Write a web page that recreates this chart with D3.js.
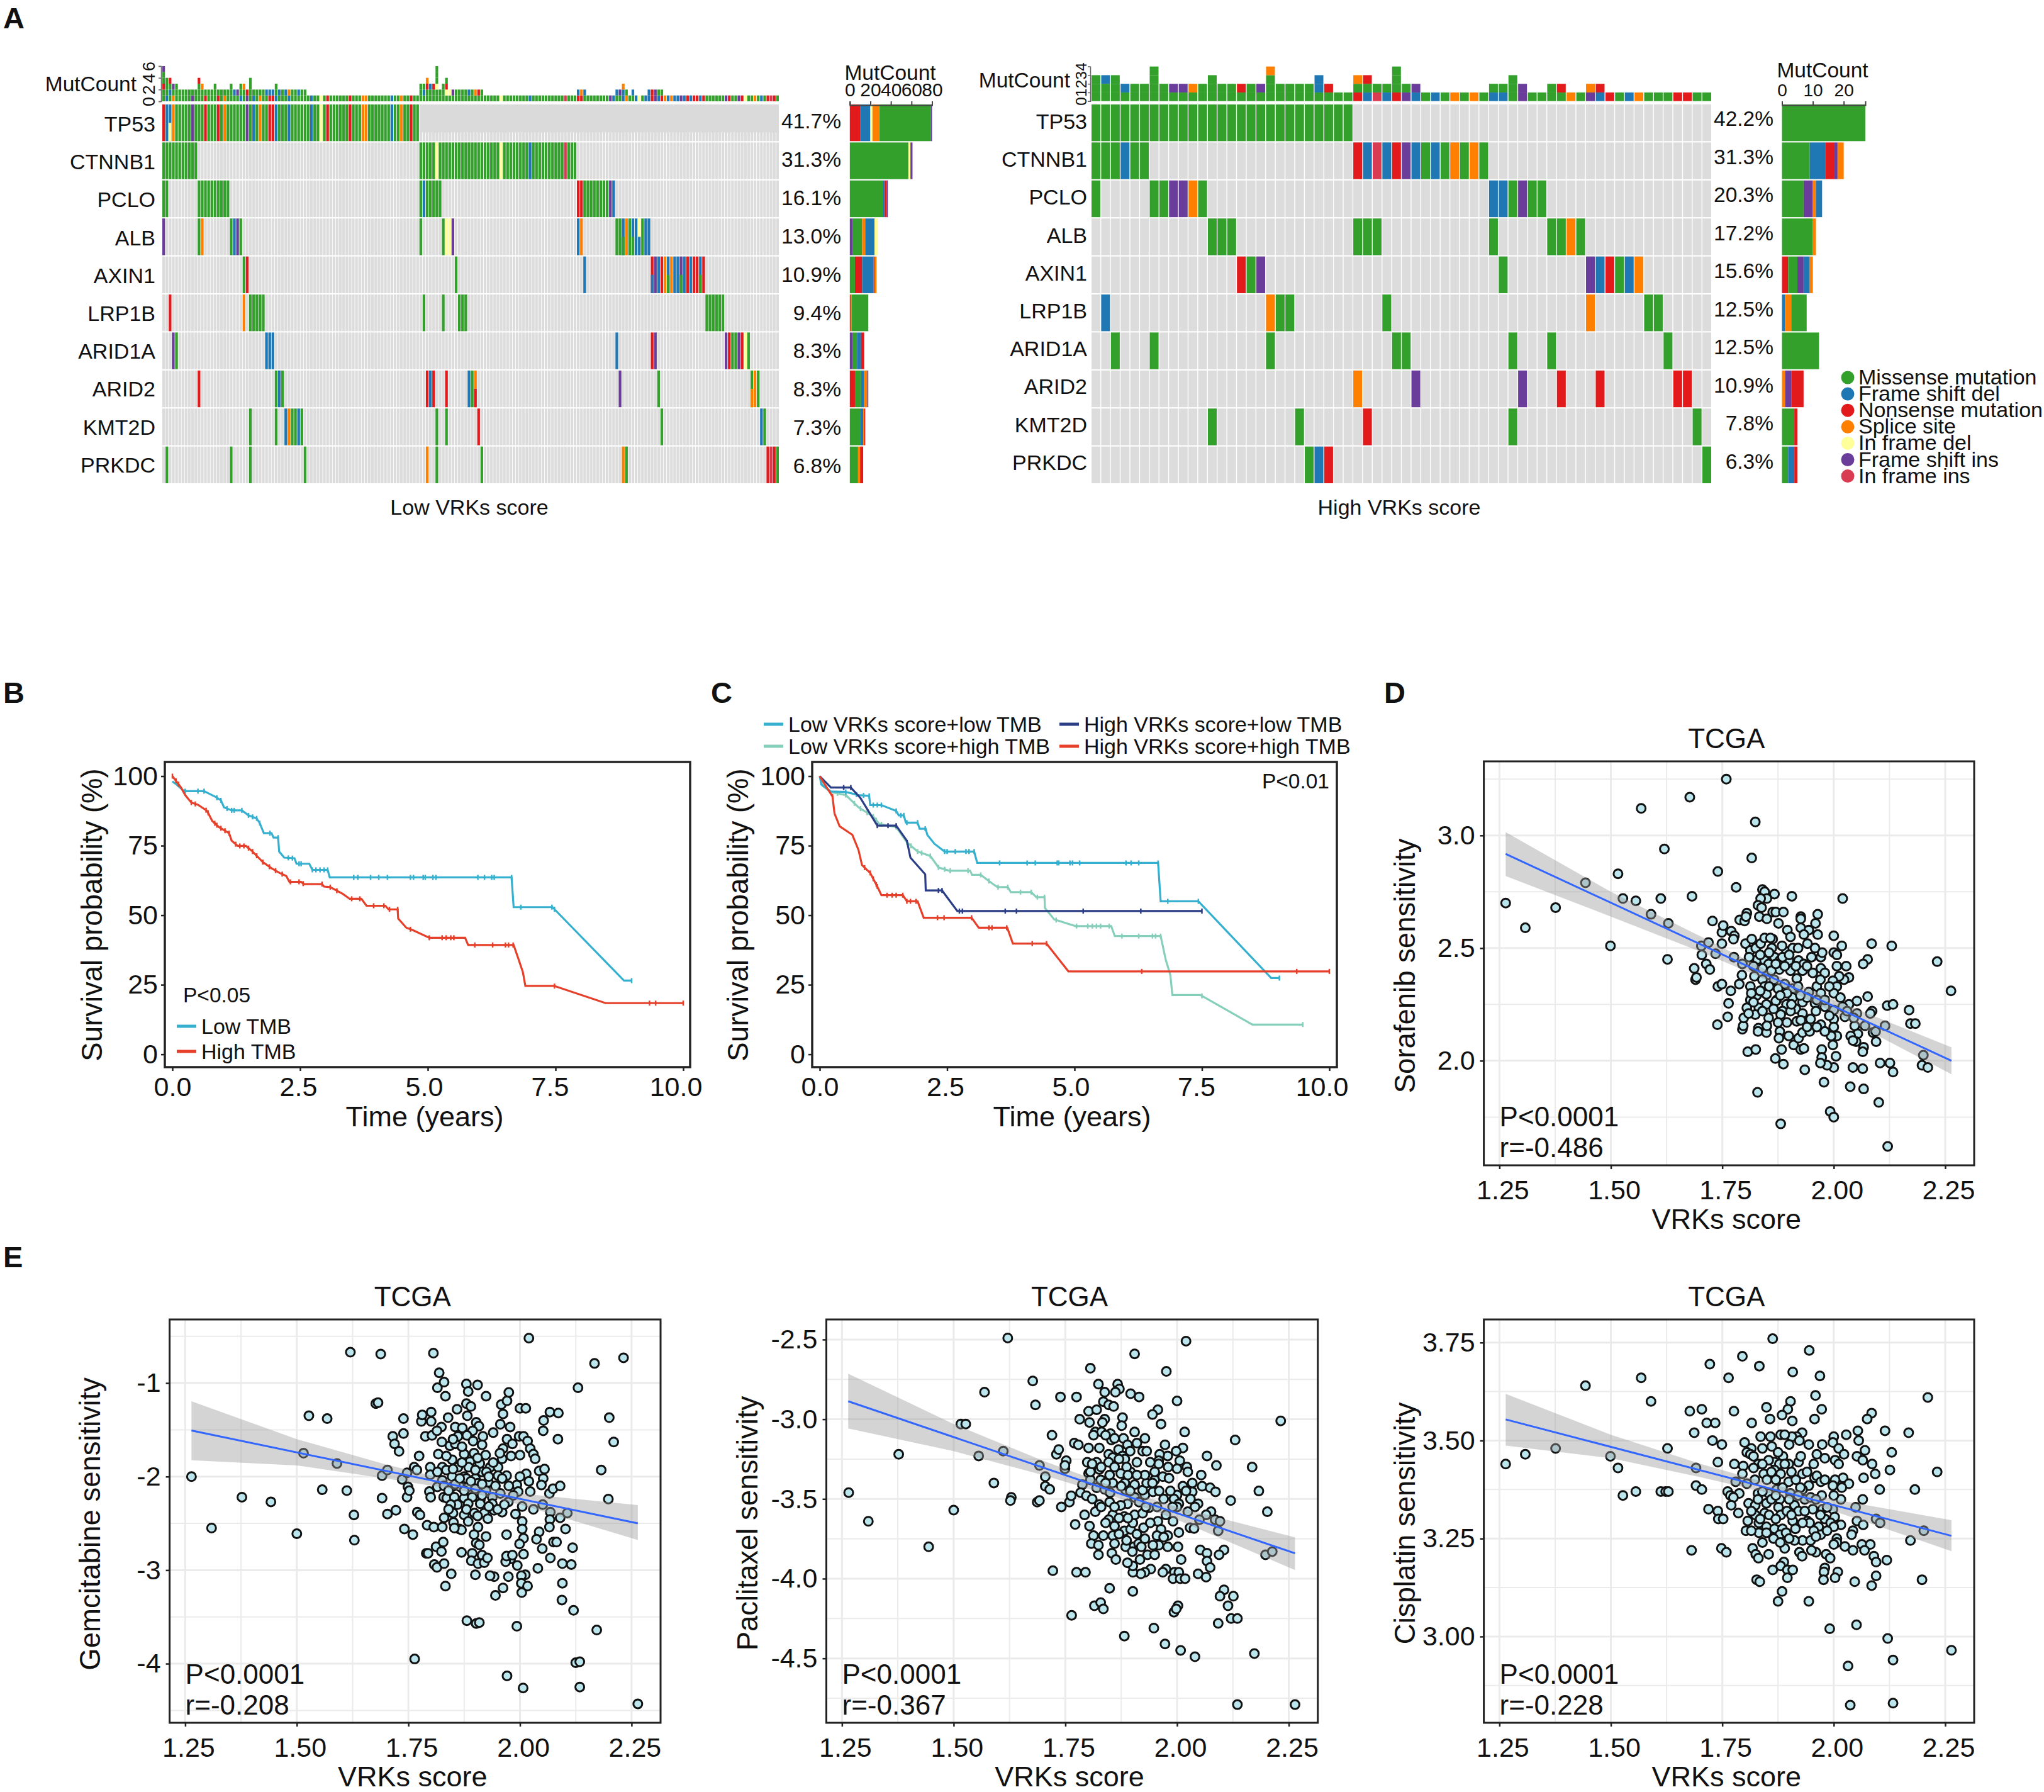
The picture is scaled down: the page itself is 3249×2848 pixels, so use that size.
<!DOCTYPE html>
<html>
<head>
<meta charset="utf-8">
<title>VRKs score figure</title>
<script src="https://cdn.jsdelivr.net/npm/d3@7"></script>
<style>
  body { margin: 0; background: #fff; }
  text { font-family: "Liberation Sans", Arial, sans-serif; fill: #111; }
</style>
</head>
<body>
<div id="chart"></div>
<script>
// mutation classes, letter codes are used in the hit lists below
const mutTypes = ['Missense mutation', 'Frame shift del', 'Nonsense mutation', 'Splice site', 'In frame del', 'Frame shift ins', 'In frame ins'];
const mutCodes = ['m', 'f', 'n', 's', 'd', 'i', 'j'];
const mutColors = ['#33a02c', '#1f78b4', '#e31a1c', '#ff7f00', '#ffff99', '#6a3d9a', '#d93b52'];

const genes = ['TP53', 'CTNNB1', 'PCLO', 'ALB', 'AXIN1', 'LRP1B', 'ARID1A', 'ARID2', 'KMT2D', 'PRKDC'];
const lowPercent = ['41.7%', '31.3%', '16.1%', '13.0%', '10.9%', '9.4%', '8.3%', '8.3%', '7.3%', '6.8%'];
const highPercent = ['42.2%', '31.3%', '20.3%', '17.2%', '15.6%', '12.5%', '12.5%', '10.9%', '7.8%', '6.3%'];

// per gene: [first sample column, one letter per sample]
const lowHits = [
  [[0, 'nffsmmmmmimmmnmmmnmsmmmmmmimfmsmmnnfmmmfmmmmmmfmmdmnmmmmmmnmmmssmmmmmmmfmmsmmnmm']],
  [[0, 'mmmmmmmmmmm'], [80, 'mmmmmdmmmmmmmmmmmmmmmmmmmdmmmmmmmmfmmmmmmmmmmjmmm']],
  [[0, 'mm'], [11, 'mmmmmmmmmm'], [80, 'mfmmmmm'], [129, 'nnmmmmmmmmif']],
  [[0, 'i'], [11, 'ms'], [21, 'mfim'], [80, 'm'], [87, 'mdd'], [90, 'i'], [129, 'fs'], [141, 'mmfsmffdmff']],
  [[25, 'mn'], [91, 'm'], [131, 'f'], [152, 'nifnsfsffifnfnnfn']],
  [[2, 'n'], [25, 's'], [27, 'mmmmm'], [81, 'm'], [87, 'm'], [92, 'mmm'], [169, 'mmmmmm']],
  [[3, 'im'], [32, 'fff'], [141, 'f'], [152, 'ni'], [175, 'inmmindm']],
  [[11, 'n'], [35, 'mfm'], [82, 'nfn'], [88, 'n'], [95, 'fms'], [142, 'i'], [154, 'm'], [183, 'msm']],
  [[27, 'm'], [35, 'm'], [38, 'fsmmfm'], [85, 'm'], [88, 'm'], [98, 'n'], [155, 'm'], [186, 'fm']],
  [[1, 'm'], [21, 'm'], [27, 'm'], [44, 'm'], [82, 's'], [85, 'm'], [99, 'm'], [143, 'sm'], [188, 'njnm']]
];
// cells with a second hit drawn in the lower half: [gene index, column, code]
const lowSplits = [[0, 2, 'd'], [3, 143, 'm'], [3, 146, 'm'], [3, 148, 'f'], [4, 152, 'f'], [4, 157, 'm'], [4, 161, 'm'], [4, 167, 'm'], [7, 97, 'n'], [7, 183, 's']];
// hits on top of the gene list, only seen in the MutCount bars: [column, codes]
const lowExtra = [[0, 'mm'], [2, 'm'], [16, 'm'], [24, 'f'], [85, 'mm'], [143, 'f'], [146, 'm'], [151, 'f']];

const highHits = [
  [[0, 'mmmmmmmmmmmmmmmmmmmmmmmmmmm']],
  [[0, 'mmmfmm'], [27, 'nfjfnifmfmsmsm']],
  [[0, 'm'], [6, 'mmiism'], [41, 'ffmimm']],
  [[12, 'mmm'], [27, 'mmm'], [41, 'm'], [47, 'mmsm']],
  [[15, 'nmi'], [42, 'm'], [51, 'ifnmfs']],
  [[1, 'f'], [18, 'smm'], [30, 'm'], [51, 's'], [57, 'mm']],
  [[2, 'm'], [6, 'm'], [18, 'm'], [31, 'mm'], [43, 'm'], [47, 'm'], [59, 'm']],
  [[27, 's'], [33, 'i'], [44, 'i'], [48, 'n'], [52, 'n'], [60, 'nn']],
  [[12, 'm'], [21, 'm'], [28, 'n'], [43, 'm'], [62, 'm']],
  [[22, 'mfn'], [63, 'm']]
];
// MutCount stack per sample, bottom to top
const highTop = ['mmm', 'mmf', 'mmm', 'mf', 'mm', 'mm', 'mmmm', 'mm', 'mi', 'mi', 'ms', 'mm', 'mmm', 'mm', 'mm', 'mn', 'mm', 'mi', 'mmms', 'mm', 'mm', 'mm', 'mm', 'mff', 'mn', 'm', 'm',
  'nms', 'fmn', 'jm', 'fm', 'nmmm', 'im', 'fi', 'm', 'f', 'm', 's', 'm', 's', 'm', 'fm', 'fm', 'mmm', 'ii', 'm', 'm', 'mm', 'mn', 's', 'm', 'is', 'fn', 'n', 'm', 'f', 's', 'm', 'm', 'm', 'n', 'n', 'm', 'm'];

// MutCount per gene, left to right
const lowSide = [
  [['n', 10], ['f', 10], ['d', 2], ['s', 7], ['m', 50], ['i', 1]],
  [['m', 57], ['d', 2], ['i', 2]],
  [['m', 32], ['f', 2], ['n', 2], ['i', 1]],
  [['i', 3], ['m', 9], ['s', 3], ['f', 9], ['d', 3]],
  [['m', 5], ['n', 7], ['f', 11], ['i', 1], ['s', 2]],
  [['n', 1], ['s', 1], ['m', 16]],
  [['i', 3], ['m', 4], ['f', 4], ['n', 3]],
  [['n', 5], ['m', 6], ['f', 3], ['s', 3], ['i', 1]],
  [['m', 10], ['f', 3], ['s', 1], ['n', 1]],
  [['m', 8], ['s', 2], ['n', 3]]
];
const highSide = [
  [['m', 27]],
  [['m', 9], ['f', 5], ['n', 3], ['i', 1], ['s', 2]],
  [['m', 7], ['i', 3], ['s', 1], ['f', 2]],
  [['m', 10], ['s', 1]],
  [['n', 2], ['m', 3], ['i', 2], ['f', 2], ['s', 1]],
  [['f', 1], ['s', 2], ['m', 5]],
  [['m', 12]],
  [['s', 1], ['i', 2], ['n', 4]],
  [['m', 4], ['n', 1]],
  [['m', 2], ['f', 2], ['n', 1]]
];

// Kaplan-Meier curves as [years, percent], censor marks in years
const tmbLow = [[0, 98.1], [.08, 97], [.23, 94.6], [.62, 94.6], [.83, 92.7], [.95, 91.3], [1.01, 88.8], [1.16, 87.7], [1.36, 87.7], [1.49, 85.9], [1.65, 84.8], [1.71, 83.1], [1.79, 79.5], [1.94, 79.5], [1.98, 77.9], [2.07, 77.9], [2.09, 72.9], [2.19, 70.7], [2.39, 70.5], [2.43, 68.5], [2.68, 68.5], [2.74, 66.3], [3.04, 66.3], [3.08, 63.6], [6.64, 63.6], [6.68, 52.9], [7.44, 52.9], [8.84, 26.5], [8.99, 26.5]];
const tmbLowCensor = [.25, .5, .62, .87, .95, 1.07, 1.16, 1.21, 1.36, 1.49, 1.57, 1.65, 1.71, 1.91, 2.07, 2.27, 2.35, 2.48, 2.52, 2.74, 2.81, 2.89, 2.97, 3.04, 3.55, 3.63, 3.88, 4.04, 4.21, 4.66, 4.72, 4.91, 4.95, 5.1, 5.16, 5.98, 6.11, 6.25, 6.3, 6.64, 6.82, 7.43, 7.48, 8.99];
const tmbHigh = [[0, 100], [.08, 98.1], [.17, 95.9], [.25, 93.2], [.37, 90.5], [.5, 89.7], [.68, 87.5], [.78, 83.9], [.91, 81.7], [1.11, 79.5], [1.16, 76.8], [1.28, 74.9], [1.44, 74.9], [1.57, 72.9], [1.77, 69.1], [1.94, 66.9], [2.1, 65.2], [2.23, 64.1], [2.29, 62], [2.52, 62], [2.57, 61.2], [2.93, 61.2], [2.97, 60.3], [3.09, 60.1], [3.34, 57.6], [3.47, 55.9], [3.7, 55.9], [3.8, 53.4], [4.17, 53.4], [4.23, 52.1], [4.41, 52.1], [4.42, 48.8], [4.58, 45.5], [4.7, 44.7], [5.03, 41.9], [5.73, 41.9], [5.79, 39.3], [6.68, 39.3], [6.77, 34.5], [6.86, 29.6], [6.91, 24.6], [7.47, 24.6], [8.48, 18.4], [10, 18.4]];
const tmbHighCensor = [0, .07, .12, .37, .45, .66, .7, .83, .87, .95, 1.03, 1.11, 1.24, 1.32, 1.4, 1.49, 1.57, 1.65, 1.77, 1.9, 2.02, 2.15, 2.31, 2.48, 2.56, 2.93, 3.09, 3.22, 3.51, 3.67, 3.94, 4.14, 4.25, 4.41, 4.66, 5.03, 5.28, 5.36, 5.45, 5.51, 5.92, 6.27, 6.52, 6.58, 6.67, 7.48, 9.34, 9.46, 10];

const lowLow = [[0, 100], [.03, 97], [.22, 94.5], [.51, 94.3], [.76, 93.2], [.97, 92.9], [.99, 89.6], [1.21, 89.6], [1.5, 87.5], [1.55, 85.9], [1.65, 85.9], [1.69, 83.3], [1.92, 83.3], [1.96, 81.1], [2.08, 81.1], [2.11, 78.9], [2.25, 75.7], [2.45, 72.9], [3.03, 72.9], [3.09, 68.8], [6.64, 68.8], [6.69, 55], [7.43, 55], [8.86, 27.4], [9.02, 27.4]];
const lowLowCensor = [.51, .72, .86, .97, 1.05, 1.13, 1.21, 1.5, 1.59, 1.65, 1.71, 1.92, 2.07, 2.45, 2.5, 2.66, 2.87, 2.93, 3.03, 3.53, 4.07, 4.23, 4.66, 4.69, 4.91, 4.96, 5.1, 6.01, 6.11, 6.26, 6.64, 6.83, 7.43, 9.02];
const lowHigh = [[0, 100], [.06, 96.5], [.22, 94.3], [.51, 93.2], [.76, 88.8], [1.05, 85.5], [1.17, 82.8], [1.5, 81.7], [1.71, 76.2], [1.92, 72.9], [2.17, 71.3], [2.33, 67.2], [2.54, 66], [2.95, 66], [2.99, 64.5], [3.16, 64.5], [3.4, 61.2], [3.49, 60.1], [3.69, 60.1], [3.75, 58.3], [4.15, 58.3], [4.25, 56.5], [4.41, 56.5], [4.42, 52.6], [4.6, 48.5], [5.02, 46.1], [5.72, 46.1], [5.79, 42.5], [6.69, 42.5], [6.79, 34], [6.88, 28.5], [6.92, 21.3], [7.47, 21.3], [8.49, 10.7], [9.48, 10.7]];
const lowHighCensor = [.35, .51, .68, .8, .93, 1.05, 1.11, 1.21, 1.5, 1.71, 1.79, 1.92, 2, 2.17, 2.33, 2.45, 2.56, 2.91, 3.16, 3.32, 3.5, 3.69, 3.94, 4.15, 4.27, 4.41, 4.64, 5.04, 5.26, 5.35, 5.43, 5.51, 5.68, 5.93, 6.26, 6.53, 6.59, 6.69, 7.5, 9.48];
const highLow = [[0, 100], [.22, 95.9], [.61, 95.9], [.8, 92.1], [1.13, 82.2], [1.5, 82.2], [1.71, 76.8], [1.78, 70.7], [2.07, 64.7], [2.08, 58.9], [2.4, 58.9], [2.7, 51.5], [7.5, 51.5]];
const highLowCensor = [.47, .61, 1.13, 1.34, 1.5, 2.33, 2.4, 2.74, 2.8, 3.64, 3.86, 5.17, 6.3, 7.5];
const highHigh = [[0, 100], [.1, 97], [.25, 92.7], [.29, 86.6], [.39, 82], [.64, 78.9], [.76, 73.5], [.83, 68], [.99, 65.2], [1.13, 60.3], [1.21, 57.2], [1.63, 57.2], [1.71, 55], [1.92, 55], [2.04, 49.1], [2.98, 49.1], [3.12, 45.5], [3.68, 45.5], [3.79, 39.8], [4.45, 39.8], [4.88, 29.8], [10, 29.8]];
const highHighCensor = [.25, .88, .99, 1.05, 1.11, 1.13, 1.32, 1.42, 1.5, 1.63, 1.71, 1.78, 1.89, 2.31, 2.44, 2.98, 3.32, 3.38, 3.67, 4.17, 4.45, 6.32, 9.36, 10];

const kmTimeTicks = [0, 2.5, 5, 7.5, 10];
const kmTimeLabels = ['0.0', '2.5', '5.0', '7.5', '10.0'];
const kmPercentTicks = [0, 25, 50, 75, 100];

// scatter points as [VRKs score, drug sensitivity]
const sorafenib = [[1.264,2.70],[1.308,2.59],[1.376,2.68],[1.443,2.79],[1.499,2.51],[1.516,2.83],[1.527,2.72],[1.556,2.71],[1.568,3.12],[1.59,2.65],[1.612,2.72],[1.62,2.94],[1.629,2.61],[1.627,2.45],[1.677,3.17],[1.682,2.73],[1.759,3.25],[1.824,3.06],[1.816,2.90],[1.74,2.84],[1.781,2.77],[1.84,2.76],[1.845,2.75],[1.867,2.74],[1.906,2.73],[2.02,2.72],[1.85,2.72],[1.836,2.72],[1.83,2.69],[1.838,2.68],[1.863,2.66],[1.87,2.66],[1.887,2.66],[1.833,2.64],[1.85,2.63],[1.876,2.61],[1.926,2.64],[1.926,2.63],[1.964,2.65],[1.959,2.61],[1.926,2.59],[1.944,2.58],[1.896,2.58],[1.964,2.56],[1.933,2.56],[1.903,2.55],[1.863,2.54],[2.0,2.555],[1.941,2.52],[2.018,2.51],[2.085,2.52],[2.13,2.51],[2.232,2.44],[2.263,2.31],[2.076,2.45],[2.066,2.43],[2.0,2.48],[2.007,2.47],[1.971,2.46],[1.974,2.48],[1.958,2.50],[2.007,2.42],[2.028,2.42],[1.971,2.41],[1.953,2.39],[1.98,2.39],[2.034,2.37],[2.023,2.36],[2.012,2.375],[1.998,2.355],[2.007,2.33],[2.0,2.30],[1.962,2.33],[1.971,2.30],[2.076,2.285],[2.052,2.265],[2.034,2.25],[2.02,2.24],[2.12,2.245],[2.133,2.25],[2.169,2.225],[2.086,2.22],[2.082,2.21],[2.052,2.21],[2.025,2.195],[2.0,2.225],[2.0,2.185],[2.115,2.155],[2.172,2.165],[2.183,2.165],[2.07,2.155],[2.047,2.155],[2.0,2.15],[1.971,2.16],[2.088,2.125],[2.094,2.13],[2.054,2.12],[2.038,2.11],[2.007,2.11],[1.994,2.11],[2.095,2.085],[2.05,2.085],[2.043,2.09],[2.067,2.06],[2.065,2.04],[1.998,2.07],[1.973,2.05],[1.973,2.015],[2.005,2.02],[2.201,2.025],[2.198,1.98],[2.211,1.97],[2.104,1.99],[2.126,1.99],[2.133,1.95],[2.065,1.965],[2.043,1.97],[2.0,1.97],[1.985,1.98],[1.97,1.99],[1.935,1.96],[1.887,1.985],[1.869,2.01],[1.978,1.905],[2.037,1.885],[2.067,1.875],[1.829,1.86],[2.101,1.815],[1.992,1.775],[2.0,1.75],[1.881,1.72],[2.121,1.62],[1.807,2.04],[1.825,2.05],[1.883,2.05],[1.91,2.07],[1.926,2.05],[1.933,2.055],[1.831,2.145],[1.83,2.13],[1.849,2.125],[1.879,2.13],[1.877,2.10],[1.899,2.11],[1.921,2.10],[1.93,2.125],[1.946,2.13],[1.962,2.15],[1.795,2.14],[1.797,2.155],[1.739,2.16],[1.762,2.195],[1.798,2.19],[1.764,2.255],[1.769,2.31],[1.74,2.33],[1.749,2.34],[1.69,2.36],[1.692,2.37],[1.687,2.41],[1.704,2.47],[1.703,2.51],[1.714,2.43],[1.722,2.405],[1.735,2.475],[1.719,2.525],[1.728,2.62],[1.749,2.52],[1.749,2.57],[1.752,2.60],[1.77,2.575],[1.777,2.555],[1.775,2.54],[1.789,2.625],[1.8,2.62],[1.805,2.655],[1.803,2.64],[1.776,2.46],[1.788,2.34],[1.795,2.43],[1.802,2.52],[1.813,2.49],[1.816,2.54],[1.825,2.50],[1.829,2.45],[1.836,2.52],[1.845,2.545],[1.858,2.545],[1.861,2.50],[1.845,2.445],[1.854,2.43],[1.867,2.46],[1.879,2.445],[1.894,2.485],[1.884,2.51],[1.908,2.50],[1.899,2.445],[1.921,2.445],[1.933,2.43],[1.93,2.40],[1.903,2.40],[1.878,2.405],[1.85,2.38],[1.794,2.38],[1.822,2.375],[1.84,2.36],[1.866,2.36],[1.917,2.365],[1.89,2.34],[1.813,2.33],[1.845,2.33],[1.827,2.29],[1.849,2.295],[1.908,2.32],[1.944,2.305],[1.908,2.28],[1.872,2.27],[1.894,2.25],[1.93,2.26],[1.958,2.255],[1.98,2.24],[1.813,2.27],[1.849,2.25],[1.805,2.235],[1.832,2.235],[1.885,2.22],[1.915,2.23],[1.93,2.21],[1.824,2.205],[1.854,2.19],[1.881,2.205],[1.903,2.22],[1.948,2.185],[1.917,2.175],[1.926,2.18],[1.809,2.21],[1.87,2.265],[1.962,2.27],
  [1.81,2.46],[1.82,2.42],[1.835,2.47],[1.84,2.41],[1.855,2.48],[1.86,2.40],[1.87,2.43],[1.885,2.46],[1.89,2.42],[1.9,2.47],[1.915,2.42],[1.92,2.50],[1.94,2.42],[1.95,2.46],[1.815,2.30],[1.835,2.31],[1.855,2.33],[1.875,2.32],[1.895,2.30],[1.92,2.33],[1.94,2.28],[1.96,2.22],[1.98,2.27],[1.82,2.26],[1.84,2.22],[1.865,2.23],[1.88,2.29],[1.905,2.25],[1.925,2.29],[1.97,2.36],[1.99,2.33],[1.99,2.20],[2.015,2.28],[2.03,2.22],[2.045,2.19],[1.875,2.17],[1.895,2.17],[1.94,2.15],[1.98,2.13],[1.85,2.155]];

const gemcitabine = [[1.264,-2.0],[1.309,-2.55],[1.377,-2.22],[1.442,-2.27],[1.5,-2.61],[1.515,-1.75],[1.527,-1.35],[1.557,-2.14],[1.568,-1.38],[1.59,-1.86],[1.612,-2.15],[1.62,-0.67],[1.628,-2.41],[1.629,-2.68],[1.677,-1.22],[1.682,-1.21],[1.688,-0.69],[1.691,-1.99],[1.691,-2.23],[1.703,-1.93],[1.703,-2.40],[1.715,-1.57],[1.719,-1.65],[1.722,-2.36],[1.729,-1.73],[1.736,-2.03],[1.739,-1.38],[1.739,-1.54],[1.741,-2.56],[1.747,-1.96],[1.747,-2.22],[1.749,-2.11],[1.752,-2.15],[1.76,-2.62],[1.764,-3.95],[1.763,-1.90],[1.769,-1.93],[1.77,-2.38],[1.776,-2.41],[1.774,-1.78],[1.779,-1.41],[1.781,-1.34],[1.788,-1.57],[1.79,-2.82],[1.792,-2.52],[1.794,-2.82],[1.799,-1.90],[1.799,-1.98],[1.797,-2.16],[1.80,-2.22],[1.801,-1.31],[1.801,-1.41],[1.803,-1.56],[1.806,-0.68],[1.807,-2.54],[1.808,-2.94],[1.814,-2.97],[1.812,-2.75],[1.815,-1.05],[1.819,-0.89],[1.83,-0.99],[1.833,-1.14],[1.839,-1.37],[1.824,-1.47],[1.814,-1.51],[1.825,-1.63],[1.817,-1.76],[1.826,-1.90],[1.835,-1.93],[1.815,-2.11],[1.826,-2.04],[1.829,-2.22],[1.836,-2.23],[1.826,-2.54],[1.83,-2.44],[1.828,-2.70],[1.824,-2.80],[1.83,-2.93],[1.846,-3.04],[1.833,-3.17],[1.85,-2.39],[1.851,-2.49],[1.864,-2.56],[1.869,-2.57],[1.853,-2.55],[1.869,-2.81],[1.843,-1.67],[1.848,-1.82],[1.855,-1.65],[1.855,-1.47],[1.859,-1.28],[1.871,-1.48],[1.861,-1.57],[1.88,-1.01],[1.905,-1.02],[1.884,-1.09],[1.88,-1.22],[1.89,-1.25],[1.882,-1.35],[1.902,-1.42],[1.908,-1.46],[1.894,-1.51],[1.881,-1.56],[1.917,-1.57],[1.94,-1.53],[1.924,-1.14],[1.915,-1.66],[1.875,-1.76],[1.897,-1.75],[1.923,-1.77],[1.956,-1.44],[1.962,-1.33],[1.958,-1.23],[1.971,-1.19],[1.975,-1.10],[1.978,-1.47],[1.971,-1.60],[1.962,-1.70],[1.983,-1.65],[2.0,-1.27],[2.013,-1.27],[1.998,-1.57],[2.008,-1.57],[2.017,-1.62],[2.023,-1.70],[2.03,-1.76],[2.034,-1.81],[2.0,-1.77],[2.02,-0.52],[2.053,-1.40],[2.052,-1.51],[2.067,-1.31],[2.086,-1.32],[2.085,-1.60],[2.13,-1.05],[2.167,-0.79],[2.232,-0.73],[2.2,-1.37],[2.21,-1.63],[2.182,-1.93],[2.198,-2.24],[2.043,-1.94],[2.055,-1.92],[2.052,-2.02],[2.014,-1.97],[2.048,-2.09],[2.066,-2.18],[2.074,-2.13],[2.09,-2.10],[2.023,-2.16],[1.993,-2.09],[1.996,-2.16],[2.051,-2.30],[2.068,-2.38],[2.106,-2.39],[2.09,-2.44],[2.067,-2.46],[2.066,-2.54],[2.102,-2.56],[2.043,-2.59],[2.005,-2.32],[2.005,-2.48],[2.005,-2.56],[2.075,-2.70],[2.082,-2.70],[2.037,-2.67],[2.05,-2.77],[2.008,-2.66],[1.999,-2.72],[1.97,-2.62],[2.008,-2.83],[2.068,-2.87],[2.118,-2.76],[2.095,-2.93],[2.115,-2.94],[2.04,-2.98],[1.994,-2.95],[1.979,-2.88],[1.968,-2.91],[1.97,-2.85],[1.983,-2.84],[2.012,-3.05],[2.003,-3.06],[1.974,-3.07],[1.942,-3.07],[1.933,-3.06],[1.9,-3.05],[2.003,-3.14],[2.017,-3.17],[1.962,-3.19],[2.004,-3.24],[1.945,-3.27],[2.095,-3.14],[2.094,-3.32],[2.12,-3.43],[2.172,-3.64],[1.881,-3.54],[1.902,-3.57],[1.909,-3.56],[1.993,-3.60],[1.971,-4.13],[2.007,-4.26],[2.125,-3.99],[2.134,-3.98],[2.134,-4.25],[2.264,-4.43],[1.906,-2.54],[1.897,-2.62],[1.924,-2.64],[1.902,-2.71],[1.909,-2.73],[1.893,-2.82],[1.915,-2.84],[1.891,-2.90],[1.906,-2.93],[1.92,-2.92],[1.927,-2.87],[1.875,-2.0],[1.848,-2.0],[1.861,-1.90],[1.888,-1.84],[1.91,-1.86],[1.933,-1.90],[1.951,-1.90],[1.96,-1.81],[1.97,-1.99],[1.915,-1.95],[1.88,-2.02],[1.9,-2.02],[1.906,-2.07],[1.929,-2.06],[1.951,-1.99],[1.866,-2.11],[1.848,-2.11],[1.884,-2.11],[1.924,-2.15],[1.956,-2.18],[1.911,-2.25],[1.875,-2.23],[1.893,-2.22],[1.853,-2.22],[1.938,-2.22],[1.974,-2.27],[1.942,-2.36],[1.96,-2.38],[1.92,-2.39],[1.898,-2.39],[1.875,-2.41],[1.928,-2.45],[1.884,-2.48],[1.884,-2.29],[1.911,-2.29],[1.938,-2.29],
  [1.835,-1.78],[1.85,-1.60],[1.87,-1.68],[1.885,-1.9],[1.895,-1.62],[1.905,-1.8],[1.925,-1.95],[1.94,-1.85],[1.955,-1.75],[1.98,-1.78],[1.83,-2.1],[1.84,-2.15],[1.855,-2.08],[1.865,-2.02],[1.875,-2.15],[1.89,-2.05],[1.9,-2.13],[1.915,-2.08],[1.93,-2.0],[1.945,-2.1],[1.96,-2.02],[1.975,-2.1],[1.985,-2.2],[2.0,-2.0],[2.02,-2.05],[1.86,-2.3],[1.88,-2.35],[1.905,-2.42],[1.915,-2.2],[1.93,-2.32],[1.95,-2.35],[1.965,-2.3],[1.99,-2.4],[2.03,-2.35],[1.845,-2.3],[1.85,-1.92],[1.87,-1.85],[1.9,-1.93],[1.815,-1.95],[1.84,-2.35]];

const paclitaxel = [[1.265,-3.46],[1.309,-3.64],[1.377,-3.22],[1.444,-3.80],[1.5,-3.57],[1.516,-3.03],[1.527,-3.03],[1.556,-3.23],[1.569,-2.83],[1.59,-3.40],[1.611,-3.20],[1.621,-2.49],[1.629,-3.49],[1.627,-3.51],[1.677,-2.76],[1.683,-2.91],[1.687,-3.52],[1.692,-3.51],[1.692,-3.29],[1.705,-3.36],[1.705,-3.42],[1.715,-3.44],[1.72,-3.10],[1.73,-3.22],[1.735,-3.19],[1.739,-2.86],[1.741,-3.55],[1.722,-3.95],[1.749,-3.31],[1.752,-3.26],[1.749,-3.29],[1.759,-3.52],[1.763,-3.48],[1.764,-4.23],[1.77,-3.15],[1.779,-3.16],[1.775,-2.86],[1.772,-3.66],[1.775,-3.96],[1.782,-3.0],[1.795,-3.96],[1.793,-3.60],[1.802,-2.95],[1.804,-3.02],[1.806,-2.68],[1.802,-3.18],[1.799,-3.27],[1.788,-3.41],[1.784,-3.46],[1.797,-3.48],[1.802,-3.34],[1.806,-3.38],[1.804,-3.67],[1.813,-3.73],[1.808,-3.78],[1.824,-3.79],[1.824,-3.85],[1.815,-4.17],[1.829,-4.15],[1.835,-4.19],[1.824,-2.78],[1.838,-2.83],[1.835,-2.89],[1.847,-2.91],[1.82,-2.94],[1.858,-2.92],[1.838,-3.0],[1.833,-3.02],[1.817,-3.08],[1.831,-3.08],[1.851,-3.09],[1.813,-3.10],[1.853,-3.13],[1.826,-3.18],[1.847,-3.22],[1.856,-3.24],[1.847,-3.27],[1.82,-3.27],[1.806,-3.33],[1.826,-3.315],[1.849,-3.35],[1.829,-3.38],[1.856,-3.40],[1.82,-3.43],[1.838,-3.44],[1.849,-3.52],[1.826,-3.535],[1.817,-3.58],[1.856,-3.60],[1.847,-3.63],[1.835,-3.73],[1.86,-3.67],[1.856,-3.73],[1.86,-3.78],[1.854,-3.84],[1.863,-3.88],[1.849,-4.06],[1.882,-4.36],[1.901,-4.08],[1.948,-4.31],[1.973,-4.41],[2.008,-4.45],[2.04,-4.49],[2.173,-4.47],[2.135,-4.79],[2.264,-4.79],[1.867,-2.78],[1.871,-2.81],[1.862,-2.83],[1.896,-2.84],[1.915,-2.86],[1.905,-2.59],[1.976,-2.70],[2.02,-2.51],[2.0,-2.885],[1.957,-2.94],[1.945,-2.97],[1.964,-3.03],[1.878,-2.99],[1.876,-3.04],[1.905,-3.08],[1.88,-3.12],[1.928,-3.12],[1.889,-3.16],[2.017,-3.08],[2.13,-3.13],[2.232,-3.01],[1.973,-3.16],[1.869,-3.19],[1.923,-3.2],[1.932,-3.2],[1.878,-3.23],[1.91,-3.27],[1.883,-3.25],[2.013,-3.18],[1.998,-3.2],[1.979,-3.23],[1.961,-3.22],[1.959,-3.26],[1.959,-3.28],[2.067,-3.23],[2.088,-3.29],[2.168,-3.3],[2.006,-3.26],[2.022,-3.3],[2.0,-3.31],[2.024,-3.33],[2.054,-3.35],[2.034,-3.4],[2.013,-3.42],[2.056,-3.42],[2.074,-3.43],[2.086,-3.455],[2.034,-3.455],[2.183,-3.45],[2.12,-3.51],[2.202,-3.58],[2.0,-3.475],[1.993,-3.5],[2.004,-3.53],[2.0,-3.55],[2.047,-3.53],[2.04,-3.55],[2.076,-3.58],[2.065,-3.6],[2.024,-3.58],[2.05,-3.63],[2.085,-3.63],[2.096,-3.64],[2.092,-3.7],[1.991,-3.64],[1.957,-3.64],[1.964,-3.69],[2.029,-3.68],[2.038,-3.685],[2.004,-3.71],[1.979,-3.73],[1.955,-3.73],[1.97,-3.74],[2.002,-3.8],[1.979,-3.8],[1.959,-3.79],[2.052,-3.82],[2.067,-3.84],[2.105,-3.82],[2.094,-3.85],[2.009,-3.88],[2.067,-3.89],[2.074,-3.93],[2.047,-3.97],[2.065,-3.99],[2.198,-3.85],[2.213,-3.83],[1.975,-3.94],[1.968,-3.96],[1.941,-3.94],[1.928,-3.96],[1.994,-3.96],[2.004,-3.96],[1.991,-4.0],[2.007,-4.0],[2.018,-4.0],[1.919,-3.97],[1.901,-3.96],[1.901,-3.92],[1.889,-3.9],[1.917,-3.88],[1.934,-3.85],[1.903,-3.8],[1.914,-3.78],[1.885,-3.8],[1.887,-3.76],[1.928,-3.75],[1.946,-3.79],[1.882,-3.7],[1.896,-3.69],[1.901,-3.65],[1.882,-3.61],[1.905,-3.6],[1.923,-3.59],[1.937,-3.555],[1.889,-3.53],[1.874,-3.54],[1.905,-3.49],[1.928,-3.475],[1.885,-3.445],[1.923,-3.445],[1.946,-3.455],[1.883,-3.4],[1.905,-3.41],[1.932,-3.4],[1.95,-3.38],[1.968,-3.36],[1.982,-3.37],[1.928,-3.35],[1.95,-3.33],[1.896,-3.33],[1.874,-3.34],[1.887,-3.3],[2.105,-4.07],[2.096,-4.11],[2.126,-4.11],[2.114,-4.17],[2.092,-4.28],[2.121,-4.25],[2.135,-4.25],[1.993,-4.21],[2.002,-4.17],[1.998,-4.19],
  [1.81,-3.28],[1.83,-3.3],[1.84,-3.4],[1.85,-3.46],[1.86,-3.3],[1.87,-3.25],[1.875,-3.42],[1.89,-3.35],[1.895,-3.45],[1.91,-3.35],[1.915,-3.52],[1.93,-3.55],[1.945,-3.4],[1.96,-3.45],[1.97,-3.5],[1.985,-3.45],[1.81,-3.5],[1.83,-3.55],[1.84,-3.65],[1.86,-3.55],[1.87,-3.62],[1.89,-3.62],[1.91,-3.72],[1.925,-3.68],[1.94,-3.65],[1.955,-3.55],[1.975,-3.6],[1.99,-3.55],[1.84,-3.1],[1.86,-3.12],[1.895,-3.2],[1.91,-3.15],[1.94,-3.27],[1.98,-3.3],[2.02,-3.45],[2.03,-3.5],[1.87,-3.72],[1.9,-3.83],[1.92,-3.8],[1.95,-3.85]];

const cisplatin = [[1.264,3.44],[1.308,3.465],[1.376,3.48],[1.443,3.64],[1.499,3.46],[1.516,3.43],[1.527,3.36],[1.556,3.37],[1.568,3.66],[1.59,3.60],[1.612,3.37],[1.623,3.37],[1.629,3.37],[1.627,3.48],[1.677,3.575],[1.704,3.58],[1.687,3.52],[1.691,3.43],[1.691,3.385],[1.704,3.375],[1.722,3.695],[1.715,3.545],[1.734,3.545],[1.728,3.50],[1.749,3.49],[1.74,3.445],[1.719,3.325],[1.74,3.32],[1.741,3.30],[1.752,3.30],[1.748,3.225],[1.759,3.215],[1.681,3.22],[1.764,3.66],[1.776,3.575],[1.795,3.715],[1.833,3.69],[1.863,3.76],[1.945,3.73],[1.908,3.675],[1.969,3.665],[1.959,3.615],[1.903,3.60],[1.897,3.58],[1.849,3.585],[1.973,3.58],[1.884,3.565],[1.907,3.55],[1.857,3.555],[1.957,3.555],[1.816,3.545],[2.085,3.57],[2.075,3.555],[2.211,3.61],[2.115,3.525],[2.168,3.52],[2.054,3.525],[2.056,3.50],[2.028,3.515],[2.0,3.51],[1.929,3.52],[1.917,3.51],[1.906,3.51],[1.881,3.515],[1.89,3.515],[1.836,3.51],[1.858,3.51],[1.923,3.50],[1.9,3.49],[1.944,3.49],[1.974,3.49],[1.998,3.495],[2.011,3.48],[2.023,3.465],[2.13,3.47],[2.07,3.475],[2.052,3.46],[2.065,3.45],[2.086,3.44],[2.003,3.45],[2.011,3.44],[1.98,3.455],[1.962,3.465],[2.126,3.425],[2.232,3.42],[2.093,3.415],[2.067,3.405],[2.021,3.405],[2.003,3.40],[2.034,3.39],[1.998,3.385],[2.018,3.38],[2.103,3.375],[2.182,3.375],[2.065,3.35],[2.016,3.35],[2.0,3.36],[2.049,3.33],[1.957,3.405],[1.944,3.385],[1.962,3.41],[1.971,3.395],[1.93,3.415],[1.921,3.445],[1.926,3.46],[1.886,3.46],[1.867,3.445],[1.878,3.44],[1.899,3.44],[1.854,3.45],[1.861,3.485],[1.84,3.48],[1.8,3.495],[1.815,3.48],[1.805,3.47],[1.813,3.465],[1.777,3.44],[1.797,3.435],[1.831,3.44],[1.82,3.43],[1.795,3.415],[1.843,3.415],[1.867,3.425],[1.881,3.415],[1.899,3.395],[1.87,3.40],[1.823,3.40],[1.78,3.395],[1.805,3.39],[1.762,3.37],[1.768,3.36],[1.788,3.365],[1.775,3.355],[1.77,3.335],[1.83,3.365],[1.854,3.365],[1.872,3.375],[1.903,3.365],[1.93,3.375],[1.973,3.36],[1.935,3.35],[1.948,3.355],[1.879,3.35],[1.809,3.34],[1.849,3.34],[1.912,3.335],[1.876,3.33],[1.824,3.335],[1.786,3.315],[1.845,3.315],[1.881,3.31],[1.921,3.32],[1.953,3.325],[1.975,3.325],[1.998,3.325],[1.824,3.31],[2.002,3.305],[1.98,3.30],[2.052,3.295],[2.095,3.30],[2.104,3.29],[1.993,3.29],[1.941,3.295],[1.908,3.295],[1.807,3.295],[1.832,3.29],[2.066,3.285],[2.016,3.285],[1.946,3.29],[1.914,3.275],[1.966,3.28],[1.849,3.28],[1.867,3.275],[1.885,3.275],[2.202,3.27],[2.043,3.27],[1.803,3.27],[1.832,3.265],[1.849,3.265],[1.879,3.26],[1.893,3.265],[1.971,3.26],[2.04,3.26],[2.007,3.25],[1.93,3.245],[1.912,3.245],[1.948,3.245],[2.007,3.24],[2.0,3.235],[2.172,3.245],[2.063,3.235],[2.082,3.235],[2.025,3.23],[1.89,3.225],[1.818,3.225],[2.043,3.22],[1.923,3.215],[1.96,3.215],[2.069,3.22],[1.854,3.21],[1.825,3.21],[1.929,3.205],[1.983,3.21],[2.09,3.205],[1.831,3.20],[1.992,3.20],[2.119,3.195],[2.095,3.19],[1.888,3.19],[1.881,3.18],[1.98,3.175],[1.896,3.17],[1.908,3.17],[1.863,3.17],[2.009,3.165],[1.978,3.165],[2.003,3.15],[1.977,3.145],[2.095,3.155],[1.896,3.15],[1.827,3.145],[1.834,3.14],[2.047,3.14],[2.198,3.145],[2.085,3.13],[1.884,3.115],[1.875,3.09],[1.944,3.09],[2.051,3.03],[1.991,3.02],[2.121,2.995],[2.264,2.965],[2.133,2.94],[2.032,2.925],[2.037,2.825],[2.133,2.83],
  [1.82,3.46],[1.84,3.44],[1.85,3.4],[1.86,3.42],[1.875,3.47],[1.89,3.44],[1.905,3.42],[1.915,3.4],[1.925,3.38],[1.94,3.42],[1.955,3.44],[1.98,3.4],[1.83,3.35],[1.84,3.37],[1.86,3.35],[1.87,3.36],[1.885,3.38],[1.9,3.35],[1.92,3.36],[1.935,3.32],[1.96,3.35],[1.97,3.31],[1.985,3.33],[2.0,3.28],[1.815,3.32],[1.835,3.3],[1.855,3.31],[1.87,3.3],[1.895,3.32],[1.905,3.31],[1.93,3.29],[1.955,3.27],[1.815,3.27],[1.865,3.25],[1.9,3.25],[1.84,3.24],[1.88,3.24],[1.95,3.22],[1.96,3.255],[1.985,3.27]];

// regression fit and confidence band, read at these scores
const fitX = [1.264, 1.5, 1.7, 1.87, 2, 2.264];
const sorafenibFit = [2.918, 2.0];
const sorafenibLo = [2.82, 2.64, 2.485, 2.342, 2.214, 1.94];
const sorafenibHi = [3.015, 2.75, 2.553, 2.382, 2.27, 2.06];
const gemcitabineFit = [-1.507, -2.5];
const gemcitabineLo = [-1.826, -1.88, -2.02, -2.15, -2.30, -2.677];
const gemcitabineHi = [-1.195, -1.60, -1.87, -2.07, -2.18, -2.305];
const paclitaxelFit = [-2.887, -3.841];
const paclitaxelLo = [-3.058, -3.20, -3.35, -3.495, -3.63, -3.946];
const paclitaxelHi = [-2.714, -3.03, -3.26, -3.435, -3.55, -3.741];
const cisplatinFit = [3.554, 3.257];
const cisplatinLo = [3.487, 3.455, 3.407, 3.362, 3.32, 3.218];
const cisplatinHi = [3.619, 3.515, 3.441, 3.386, 3.35, 3.297];

const scoreTicks = [1.25, 1.5, 1.75, 2, 2.25];
const scoreLabels = ['1.25', '1.50', '1.75', '2.00', '2.25'];
const scoreMinor = [1.375, 1.625, 1.875, 2.125];

const svg = d3.select('#chart').append('svg')
  .attr('width', 3249)
  .attr('height', 2848)
  .style('display', 'block');

function label(g, x, y, str, size, anchor, weight) {
  return g.append('text')
    .attr('x', x).attr('y', y)
    .attr('font-size', size)
    .attr('text-anchor', anchor || 'start')
    .attr('font-weight', weight || 'normal')
    .text(str);
}

function rotatedLabel(g, x, y, str, size) {
  return g.append('text')
    .attr('transform', `translate(${x},${y}) rotate(-90)`)
    .attr('font-size', size)
    .attr('text-anchor', 'middle')
    .text(str);
}

function codeColor(code) {
  return mutColors[mutCodes.indexOf(code)];
}

function expandHits(runs) {
  const cells = [];
  runs.forEach(([start, codes]) => {
    [...codes].forEach((code, i) => cells.push({ col: start + i, code }));
  });
  return cells;
}

function drawOncoplot(cfg) {
  const g = svg.append('g');
  const columns = d3.range(cfg.samples);
  const x = d3.scaleBand().domain(columns).range(cfg.xRange).paddingInner(cfg.gap);
  const y = d3.scaleBand().domain(genes).range([166, 768]).paddingInner(0.035);

  genes.forEach((gene, gi) => {
    g.append('g').selectAll('rect')
      .data(columns)
      .enter()
      .append('rect')
      .attr('x', d => x(d))
      .attr('y', y(gene))
      .attr('width', x.bandwidth())
      .attr('height', y.bandwidth())
      .attr('fill', '#dcdcdc');

    // top part of the empty TP53 cells runs together in the low group
    if (gi === 0 && cfg.solidFrom !== undefined) {
      g.append('rect')
        .attr('x', x(cfg.solidFrom))
        .attr('y', y(gene))
        .attr('width', cfg.xRange[1] - x(cfg.solidFrom))
        .attr('height', y.bandwidth() * 0.76)
        .attr('fill', '#dadada');
    }

    g.append('g').selectAll('rect')
      .data(expandHits(cfg.hits[gi]))
      .enter()
      .append('rect')
      .attr('x', d => x(d.col))
      .attr('y', y(gene))
      .attr('width', x.bandwidth())
      .attr('height', y.bandwidth())
      .attr('fill', d => codeColor(d.code));

    label(g, cfg.geneX, cfg.geneY[0] + gi * cfg.geneY[1], gene, 34, 'end');
    label(g, cfg.percentX, cfg.percentY[0] + gi * cfg.percentY[1], cfg.percent[gi], 33.5, 'end');

    // MutCount per gene
    let total = 0;
    const segs = cfg.side[gi].map(([code, n]) => {
      const seg = { code, from: total, to: total + n };
      total += n;
      return seg;
    });
    g.append('g').selectAll('rect')
      .data(segs)
      .enter()
      .append('rect')
      .attr('x', d => cfg.sideScale(d.from))
      .attr('y', y(gene))
      .attr('width', d => cfg.sideScale(d.to) - cfg.sideScale(d.from))
      .attr('height', y.bandwidth())
      .attr('fill', d => codeColor(d.code));
  });

  g.append('g').selectAll('rect')
    .data(cfg.splits)
    .enter()
    .append('rect')
    .attr('x', d => x(d[1]))
    .attr('y', d => y(genes[d[0]]) + y.bandwidth() / 2)
    .attr('width', x.bandwidth())
    .attr('height', y.bandwidth() / 2)
    .attr('fill', d => codeColor(d[2]));

  // top bars
  const topY = d3.scaleLinear().domain(cfg.topDomain).range([cfg.topBase, cfg.topPeak]);
  const topSegs = [];
  cfg.topStacks.forEach((stack, col) => {
    [...stack].forEach((code, level) => topSegs.push({ col, level, code }));
  });
  g.append('g').selectAll('rect')
    .data(topSegs)
    .enter()
    .append('rect')
    .attr('x', d => x(d.col))
    .attr('y', d => topY(d.level + 1))
    .attr('width', x.bandwidth())
    .attr('height', d => topY(d.level) - topY(d.level + 1))
    .attr('fill', d => codeColor(d.code));

  const topAxis = g.append('g')
    .attr('transform', `translate(${cfg.xRange[0] - 2},0)`)
    .call(d3.axisLeft(topY).tickValues(cfg.topTicks).tickSize(4).tickFormat(d3.format('d')));
  topAxis.selectAll('path,line').attr('stroke', '#666').attr('stroke-width', 1.5);
  topAxis.selectAll('text')
    .attr('transform', 'rotate(-90)')
    .attr('x', 0)
    .attr('y', cfg.topLabelGap)
    .attr('dy', 0)
    .attr('text-anchor', 'middle')
    .attr('font-family', '"Liberation Sans", Arial, sans-serif')
    .attr('font-size', cfg.topFont);

  const sideAxis = g.append('g')
    .attr('transform', 'translate(0,167)')
    .call(d3.axisTop(cfg.sideScale).tickValues(cfg.sideTicks).tickSize(6).tickPadding(8).tickFormat(d3.format('d')));
  sideAxis.selectAll('path,line').attr('stroke', '#444').attr('stroke-width', 2);
  sideAxis.selectAll('text')
    .attr('font-family', '"Liberation Sans", Arial, sans-serif')
    .attr('font-size', cfg.sideFont);

  label(g, cfg.mutLeftX, cfg.mutLeftY, 'MutCount', 33.5, 'end');
  label(g, cfg.mutSideX, cfg.mutSideY, 'MutCount', 33.5, 'middle');
  label(g, cfg.titleX, 818, cfg.title, 34, 'middle');
}

// low group MutCount bars come from the hit lists plus the extra hits
const lowTop = d3.range(192).map(() => '');
lowExtra.forEach(([col, codes]) => { lowTop[col] += codes; });
lowHits.forEach(runs => expandHits(runs).forEach(d => { lowTop[d.col] += d.code; }));

drawOncoplot({
  samples: 192, gap: 0.17, xRange: [258, 1238], hits: lowHits, splits: lowSplits, solidFrom: 80,
  percent: lowPercent, side: lowSide, geneX: 247, geneY: [209, 60.2], percentX: 1337, percentY: [204, 60.9],
  sideScale: d3.scaleLinear().domain([0, 80]).range([1350.8, 1481.5]),
  sideTicks: [0, 20, 40, 60, 80], sideFont: 30,
  topStacks: lowTop, topDomain: [0, 6], topBase: 161, topPeak: 105, topTicks: [0, 2, 4, 6], topFont: 27, topLabelGap: -10,
  mutLeftX: 217, mutLeftY: 145, mutSideX: 1415, mutSideY: 127,
  title: 'Low VRKs score', titleX: 746
});

drawOncoplot({
  samples: 64, gap: 0.09, xRange: [1735, 2720], hits: highHits, splits: [],
  percent: highPercent, side: highSide, geneX: 1728, geneY: [205, 60.2], percentX: 2819, percentY: [200, 60.5],
  sideScale: d3.scaleLinear().domain([0, 27]).range([2832.5, 2965]),
  sideTicks: [0, 10, 20], sideFont: 28,
  topStacks: highTop, topDomain: [0, 4], topBase: 160.7, topPeak: 105.7, topTicks: [0, 1, 2, 3, 4], topFont: 24, topLabelGap: -6,
  mutLeftX: 1701, mutLeftY: 139, mutSideX: 2897, mutSideY: 123,
  title: 'High VRKs score', titleX: 2224
});

// mutation legend
const legend = svg.append('g');
legend.selectAll('circle')
  .data(mutTypes)
  .enter()
  .append('circle')
  .attr('cx', 2937)
  .attr('cy', (d, i) => 600 + i * 26.1)
  .attr('r', 10.5)
  .attr('fill', (d, i) => mutColors[i]);
legend.selectAll('text')
  .data(mutTypes)
  .enter()
  .append('text')
  .attr('x', 2954)
  .attr('y', (d, i) => 611 + i * 26.1)
  .attr('font-size', 34)
  .text(d => d);

function drawKM(cfg) {
  const g = svg.append('g');
  const x = d3.scaleLinear().domain([0, 10]).range(cfg.xRange);
  const y = d3.scaleLinear().domain([0, 100]).range([1675.6, 1233.5]);
  const line = d3.line().x(d => x(d[0])).y(d => y(d[1]));

  cfg.curves.forEach(c => {
    g.append('path')
      .attr('d', line(c.points))
      .attr('fill', 'none')
      .attr('stroke', c.color)
      .attr('stroke-width', 3.2);

    const atTime = d3.scaleLinear().domain(c.points.map(p => p[0])).range(c.points.map(p => p[1]));
    g.append('g').selectAll('line')
      .data(c.censor)
      .enter()
      .append('line')
      .attr('x1', d => x(d))
      .attr('x2', d => x(d))
      .attr('y1', d => y(atTime(d)) - 4)
      .attr('y2', d => y(atTime(d)) + 4)
      .attr('stroke', c.color)
      .attr('stroke-width', 2.5);
  });

  g.append('rect')
    .attr('x', cfg.frame[0]).attr('y', 1211)
    .attr('width', cfg.frame[1] - cfg.frame[0]).attr('height', 485)
    .attr('fill', 'none').attr('stroke', '#222').attr('stroke-width', 3.5);

  const xAxis = g.append('g').attr('transform', 'translate(0,1696)')
    .call(d3.axisBottom(x).tickValues(kmTimeTicks).tickSize(6).tickPadding(9).tickFormat((d, i) => kmTimeLabels[i]));
  const yAxis = g.append('g').attr('transform', `translate(${cfg.frame[0]},0)`)
    .call(d3.axisLeft(y).tickValues(kmPercentTicks).tickSize(6).tickPadding(5));
  [xAxis, yAxis].forEach(a => {
    a.select('.domain').remove();
    a.selectAll('line').attr('stroke', '#222').attr('stroke-width', 2.5);
    a.selectAll('text').attr('font-family', '"Liberation Sans", Arial, sans-serif').attr('font-size', 43);
  });
  // time labels drift left of their ticks in the figure
  xAxis.selectAll('text').attr('dx', d => -1.2 * d);

  label(g, cfg.xLabelX, 1790, 'Time (years)', 45, 'middle');
  rotatedLabel(g, cfg.yLabelX, 1454, 'Survival probability (%)', 45.5);

  cfg.legend.forEach(item => {
    g.append('line')
      .attr('x1', item.lineX).attr('x2', item.lineX + 31)
      .attr('y1', item.y).attr('y2', item.y)
      .attr('stroke', item.color).attr('stroke-width', 5);
    label(g, item.lineX + 39, item.y + 12, item.text, 34);
  });
}

drawKM({
  xRange: [274, 1086], frame: [262, 1097], xLabelX: 675, yLabelX: 162,
  curves: [
    { points: tmbLow, censor: tmbLowCensor, color: '#35b0cf' },
    { points: tmbHigh, censor: tmbHighCensor, color: '#e6402a' }
  ],
  legend: [
    { lineX: 281, y: 1631, color: '#35b0cf', text: 'Low TMB' },
    { lineX: 281, y: 1671, color: '#e6402a', text: 'High TMB' }
  ]
});
drawKM({
  xRange: [1303, 2113], frame: [1291, 2125], xLabelX: 1704, yLabelX: 1189,
  curves: [
    { points: lowHigh, censor: lowHighCensor, color: '#86cfbb' },
    { points: lowLow, censor: lowLowCensor, color: '#35b0cf' },
    { points: highLow, censor: highLowCensor, color: '#2b3d85' },
    { points: highHigh, censor: highHighCensor, color: '#e6402a' }
  ],
  legend: [
    { lineX: 1214, y: 1151, color: '#35b0cf', text: 'Low VRKs score+low TMB' },
    { lineX: 1214, y: 1186, color: '#86cfbb', text: 'Low VRKs score+high TMB' },
    { lineX: 1684, y: 1151, color: '#2b3d85', text: 'High VRKs score+low TMB' },
    { lineX: 1684, y: 1186, color: '#e6402a', text: 'High VRKs score+high TMB' }
  ]
});
label(svg, 291, 1593, 'P<0.05', 33.5);
label(svg, 2113, 1253, 'P<0.01', 33.5, 'end');

function drawScatter(cfg) {
  const g = svg.append('g');
  const x = d3.scaleLinear().domain([1.215, 2.315]).range(cfg.xRange);
  const y = d3.scaleLinear().domain(cfg.yDomain).range(cfg.yRange);
  const [left, right] = cfg.xRange;
  const [bottom, top] = cfg.yRange;

  // grid
  const gridX = g.append('g').attr('stroke', '#ebebeb');
  gridX.selectAll('.major').data(scoreTicks).enter().append('line').attr('class', 'major')
    .attr('x1', d => x(d)).attr('x2', d => x(d)).attr('y1', top).attr('y2', bottom).attr('stroke-width', 3);
  gridX.selectAll('.minor').data(scoreMinor).enter().append('line').attr('class', 'minor')
    .attr('x1', d => x(d)).attr('x2', d => x(d)).attr('y1', top).attr('y2', bottom).attr('stroke-width', 2);
  const gridY = g.append('g').attr('stroke', '#ebebeb');
  gridY.selectAll('.major').data(cfg.yTicks).enter().append('line').attr('class', 'major')
    .attr('x1', left).attr('x2', right).attr('y1', d => y(d)).attr('y2', d => y(d)).attr('stroke-width', 3);
  gridY.selectAll('.minor').data(cfg.yMinor).enter().append('line').attr('class', 'minor')
    .attr('x1', left).attr('x2', right).attr('y1', d => y(d)).attr('y2', d => y(d)).attr('stroke-width', 2);

  g.append('g').selectAll('circle')
    .data(cfg.points)
    .enter()
    .append('circle')
    .attr('cx', d => x(d[0]))
    .attr('cy', d => y(d[1]))
    .attr('r', 7)
    .attr('fill', '#bce6ee')
    .attr('stroke', '#111')
    .attr('stroke-width', 3);

  // confidence band and fit line go over the points
  const band = d3.area()
    .x((d, i) => x(fitX[i]))
    .y0((d, i) => y(cfg.lo[i]))
    .y1((d, i) => y(cfg.hi[i]));
  g.append('path')
    .attr('d', band(fitX))
    .attr('fill', '#999')
    .attr('fill-opacity', 0.42);
  g.append('line')
    .attr('x1', x(fitX[0])).attr('x2', x(fitX[fitX.length - 1]))
    .attr('y1', y(cfg.fit[0])).attr('y2', y(cfg.fit[1]))
    .attr('stroke', '#3366ff')
    .attr('stroke-width', 3);

  g.append('rect')
    .attr('x', left).attr('y', top)
    .attr('width', right - left).attr('height', bottom - top)
    .attr('fill', 'none').attr('stroke', '#222').attr('stroke-width', 3);

  const xAxis = g.append('g').attr('transform', `translate(0,${bottom})`)
    .call(d3.axisBottom(x).tickValues(scoreTicks).tickSize(6).tickPadding(17).tickFormat((d, i) => scoreLabels[i]));
  const yAxis = g.append('g').attr('transform', `translate(${left},0)`)
    .call(d3.axisLeft(y).tickValues(cfg.yTicks).tickSize(6).tickPadding(8).tickFormat((d, i) => cfg.yLabels[i]));
  [xAxis, yAxis].forEach(a => {
    a.select('.domain').remove();
    a.selectAll('line').attr('stroke', '#222').attr('stroke-width', 2.5);
    a.selectAll('text').attr('font-family', '"Liberation Sans", Arial, sans-serif').attr('font-size', 43);
  });
  xAxis.selectAll('text').attr('dx', 5);

  const mid = (left + right) / 2 - 4;
  label(g, mid, top - 21, 'TCGA', 44, 'middle');
  label(g, mid, bottom + 101, 'VRKs score', 45, 'middle');
  rotatedLabel(g, cfg.yLabelX, cfg.yLabelY, cfg.yLabel, 45.5);
  label(g, left + 25, bottom - 62, 'P<0.0001', 44);
  label(g, left + 25, bottom - 13, cfg.r, 44);
}

drawScatter({
  points: sorafenib, fit: sorafenibFit, lo: sorafenibLo, hi: sorafenibHi,
  xRange: [2358.6, 3138], yRange: [1852, 1210], yDomain: [1.536, 3.329],
  yTicks: [2, 2.5, 3], yLabels: ['2.0', '2.5', '3.0'], yMinor: [1.75, 2.25, 2.75, 3.25],
  yLabel: 'Sorafenib sensitivity', yLabelX: 2249, yLabelY: 1535, r: 'r=-0.486'
});
drawScatter({
  points: gemcitabine, fit: gemcitabineFit, lo: gemcitabineLo, hi: gemcitabineHi,
  xRange: [269.6, 1050], yRange: [2738, 2097], yDomain: [-4.632, -0.32],
  yTicks: [-4, -3, -2, -1], yLabels: ['-4', '-3', '-2', '-1'], yMinor: [-4.5, -3.5, -2.5, -1.5, -0.5],
  yLabel: 'Gemcitabine sensitivity', yLabelX: 159, yLabelY: 2422, r: 'r=-0.208'
});
drawScatter({
  points: paclitaxel, fit: paclitaxelFit, lo: paclitaxelLo, hi: paclitaxelHi,
  xRange: [1313.5, 2094.7], yRange: [2738, 2097], yDomain: [-4.904, -2.374],
  yTicks: [-4.5, -4, -3.5, -3, -2.5], yLabels: ['-4.5', '-4.0', '-3.5', '-3.0', '-2.5'], yMinor: [-4.75, -4.25, -3.75, -3.25, -2.75],
  yLabel: 'Paclitaxel sensitivity', yLabelX: 1204, yLabelY: 2421, r: 'r=-0.367'
});
drawScatter({
  points: cisplatin, fit: cisplatinFit, lo: cisplatinLo, hi: cisplatinHi,
  xRange: [2358.6, 3138], yRange: [2738, 2097], yDomain: [2.78, 3.809],
  yTicks: [3, 3.25, 3.5, 3.75], yLabels: ['3.00', '3.25', '3.50', '3.75'], yMinor: [2.875, 3.125, 3.375, 3.625],
  yLabel: 'Cisplatin sensitivity', yLabelX: 2249, yLabelY: 2421, r: 'r=-0.228'
});

// panel letters
label(svg, 5, 45, 'A', 47, 'start', 'bold');
label(svg, 5, 1117, 'B', 47, 'start', 'bold');
label(svg, 1130, 1117, 'C', 47, 'start', 'bold');
label(svg, 2200, 1117, 'D', 47, 'start', 'bold');
label(svg, 5, 2014, 'E', 47, 'start', 'bold');
</script>
</body>
</html>
